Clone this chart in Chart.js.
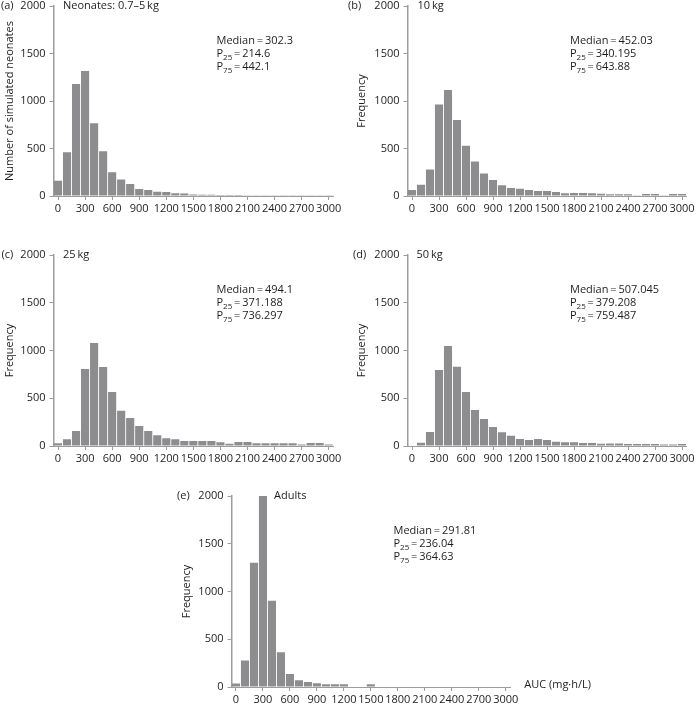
<!DOCTYPE html>
<html><head><meta charset="utf-8">
<script src="https://cdn.jsdelivr.net/npm/chart.js@4.4.1/dist/chart.umd.min.js"></script>
<style>
html,body{margin:0;padding:0;background:#fff;}
body{width:695px;height:706px;position:relative;overflow:hidden;}
canvas{position:absolute;}
</style></head><body>
<canvas id="ca" width="345" height="225" style="left:0px;top:0px"></canvas>
<canvas id="cb" width="350" height="225" style="left:345px;top:0px"></canvas>
<canvas id="cc" width="345" height="225" style="left:0px;top:249px"></canvas>
<canvas id="cd" width="350" height="225" style="left:345px;top:249px"></canvas>
<canvas id="ce" width="525" height="216" style="left:170px;top:490px"></canvas>
<script>
// ---- data ----
const aucBins = [0,100,200,300,400,500,600,700,800,900,1000,1100,1200,1300,1400,1500,1600,1700,1800,1900,2000,2100,2200,2300,2400,2500,2600,2700,2800,2900,3000];
const xTickValues = [0,300,600,900,1200,1500,1800,2100,2400,2700,3000];
const yTickValues = [0,500,1000,1500,2000];

const neonates = [160,460,1180,1315,765,470,249,175,126,74,62,44,42,28,27,16,13,12,11,10,10,9,9,9,8,8,8,8,8,8,8];
const kg10     = [63,118,280,962,1115,800,530,363,238,168,114,84,77,63,53,52,42,30,32,32,28,25,18,18,18,7,21,21,7,21,21];
const kg25     = [28,70,157,806,1078,827,566,370,293,209,157,112,80,70,52,52,52,52,38,24,42,42,28,28,28,28,28,17,31,31,17];
const kg50     = [0,35,147,796,1047,830,565,377,283,200,144,108,74,63,74,63,45,38,38,32,32,24,25,25,21,21,21,20,17,17,20];
const adults   = [37,278,1302,2000,902,365,135,71,52,38,30,30,30,0,0,30,0,0,0,0,0,0,0,0,0,0,0,0,0,0,0];

const panelLetters = ['(a)','(b)','(c)','(d)','(e)'];
const panelTitles  = ['Neonates: 0.7\u20135\u2009kg','10\u2009kg','25\u2009kg','50\u2009kg','Adults'];
const medians = ['302.3','452.03','494.1','507.045','291.81'];
const p25s    = ['214.6','340.195','371.188','379.208','236.04'];
const p75s    = ['442.1','643.88','736.297','759.487','364.63'];
const yTitles = ['Number of simulated neonates','Frequency','Frequency','Frequency','Frequency'];
const xTitle  = 'AUC (mg\u00b7h/L)';
const seriesList = [neonates, kg10, kg25, kg50, adults];

// ---- style / layout ----
const FONT = '"Open Sans", "DejaVu Sans", sans-serif';
const barColor = '#8d8d8f';
const axisColor = '#9c9c9c';
const textColor = '#1e1e1e';
const layouts = [
  {id:'ca', yw:53.5, padTop:6, padRight:11.8, xh:29, titlePad:3.4, letterX:1, subX:9.5, statX:163},
  {id:'cb', yw:62.5, padTop:6, padRight:8.5,  xh:29, titlePad:10.4, letterX:3, subX:10, statX:162.5},
  {id:'cc', yw:53.5, padTop:6, padRight:11.8, xh:28, titlePad:3.4, letterX:1.5, subX:9.5, statX:163},
  {id:'cd', yw:62.5, padTop:6, padRight:8.5,  xh:28, titlePad:10.4, letterX:8, subX:9, statX:162.5},
  {id:'ce', yw:61.5, padTop:6, padRight:184.8, xh:19, titlePad:10.4, letterX:7, subX:42.5, statX:162, xTitle:true}
];

function drawP(ctx, sub, val, x, y) {
  ctx.font = '11px ' + FONT;
  ctx.fillText('P', x, y);
  let w = ctx.measureText('P').width;
  ctx.font = '8px ' + FONT;
  ctx.fillText(sub, x + w, y + 3.5);
  w += ctx.measureText(sub).width;
  ctx.font = '11px ' + FONT;
  ctx.fillText('\u2009=\u2009' + val, x + w, y);
}

const panelTextPlugin = {
  id: 'panelText',
  afterDraw(chart, args, o) {
    const ctx = chart.ctx, ca = chart.chartArea;
    ctx.save();
    ctx.fillStyle = textColor;
    ctx.textBaseline = 'middle';
    ctx.textAlign = 'left';
    ctx.font = '11px ' + FONT;
    ctx.fillText(o.letter, o.letterX, ca.top);
    ctx.fillText(o.subtitle, ca.left + o.subX, ca.top);
    const sx = ca.left + o.statX;
    ctx.fillText('Median\u2009=\u2009' + o.median, sx, ca.top + 35);
    drawP(ctx, '25', o.p25, sx, ca.top + 48);
    drawP(ctx, '75', o.p75, sx, ca.top + 61);
    if (o.xTitle) {
      ctx.font = '11px ' + FONT;
      ctx.fillText(o.xTitle, ca.right + 14, ca.bottom - 2);
    }
    ctx.restore();
  }
};

function makeChart(i) {
  const L = layouts[i];
  const values = seriesList[i];
  new Chart(document.getElementById(L.id), {
    type: 'bar',
    data: {
      datasets: [{
        data: aucBins.map((b, k) => ({x: b, y: values[k]})),
        backgroundColor: barColor,
        borderWidth: 0,
        barPercentage: 0.9,
        categoryPercentage: 1
      }]
    },
    options: {
      responsive: false,
      animation: false,
      devicePixelRatio: 1,
      layout: {padding: {left: 0, top: L.padTop, right: L.padRight, bottom: 0}},
      plugins: {
        legend: {display: false},
        tooltip: {enabled: false},
        panelText: {
          letter: panelLetters[i], subtitle: panelTitles[i],
          median: medians[i], p25: p25s[i], p75: p75s[i],
          letterX: L.letterX, subX: L.subX, statX: L.statX,
          xTitle: L.xTitle ? xTitle : null
        }
      },
      scales: {
        x: {
          type: 'linear', min: -50, max: 3050, offset: false,
          afterBuildTicks: s => { s.ticks = xTickValues.map(v => ({value: v})); },
          afterFit: s => { s.height = L.xh; s.paddingLeft = 0; s.paddingRight = 0; },
          grid: {display: true, drawOnChartArea: false, drawTicks: true, tickLength: 4, tickColor: axisColor, tickWidth: 1, offset: false},
          border: {display: true, color: axisColor, width: 1},
          ticks: {autoSkip: false, maxRotation: 0, minRotation: 0, padding: 2, color: textColor,
                  font: {family: FONT, size: 11}, callback: v => String(v)}
        },
        y: {
          type: 'linear', min: 0, max: 2000,
          afterBuildTicks: s => { s.ticks = yTickValues.map(v => ({value: v})); },
          afterFit: s => { s.width = L.yw; s.paddingTop = 0; s.paddingBottom = 0; },
          title: {display: true, text: yTitles[i], color: textColor, font: {family: FONT, size: 11}, padding: {top: L.titlePad, bottom: 0}},
          grid: {display: true, drawOnChartArea: false, drawTicks: true, tickLength: 4, tickColor: axisColor, tickWidth: 1},
          border: {display: true, color: axisColor, width: 1.5},
          ticks: {padding: 4, color: textColor, font: {family: FONT, size: 11}, callback: v => String(v)}
        }
      }
    },
    plugins: [panelTextPlugin]
  });
}
for (let i = 0; i < 5; i++) makeChart(i);
</script>
</body></html>
